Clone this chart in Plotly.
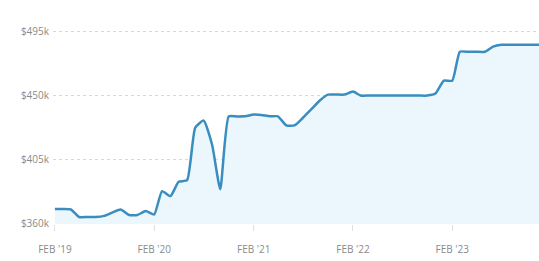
import plotly.graph_objects as go
import pandas as pd

months = pd.date_range("2019-02-01", "2024-01-01", freq="MS").strftime("%Y-%m-%d").tolist()
values_k = [
    369.8, 369.8, 369.5, 364.2, 364.2, 364.2, 365.0, 367.5, 369.5, 365.6, 365.6, 368.4,  # Feb19-Jan20
    366.0, 382.4, 378.9, 389.0, 390.1, 427.0, 432.0, 415.0, 383.8, 434.9, 434.9, 435.0,  # Feb20-Jan21
    436.3, 436.0, 435.0, 435.0, 428.6, 428.6, 434.0, 440.0, 446.0, 450.3, 450.3, 450.3,  # Feb21-Jan22
    452.4, 449.6, 449.6, 449.6, 449.6, 449.6, 449.6, 449.6, 449.6, 449.6, 451.0, 460.1,  # Feb22-Jan23
    460.1, 480.4, 480.4, 480.4, 480.4, 484.0, 485.3, 485.3, 485.3, 485.3, 485.3, 485.3,  # Feb23-Jan24
]
y_tickvals = [360, 405, 450, 495]
y_ticktext = ["$360k", "$405k", "$450k", "$495k"]
x_tickvals = ["2019-02-01", "2020-02-01", "2021-02-01", "2022-02-01", "2023-02-01"]
x_ticktext = ["FEB '19", "FEB '20", "FEB '21", "FEB '22", "FEB '23"]

fig = go.Figure()
fig.add_trace(go.Scatter(
    x=months, y=values_k, mode="lines",
    line=dict(color="#3a8ebf", width=2.5, shape="spline", smoothing=0.5),
    fill="tozeroy", fillcolor="#ebf7fd",
))
fig.update_layout(
    width=539, height=261,
    margin=dict(l=53, r=0, t=0, b=37, autoexpand=False),
    paper_bgcolor="white", plot_bgcolor="white",
    showlegend=False,
    font=dict(family="Open Sans", size=10, color="#8a8a8a"),
)
fig.update_xaxes(
    range=["2019-01-25", "2023-12-17"],
    tickvals=x_tickvals, ticktext=x_ticktext,
    showgrid=False, zeroline=False, showline=False,
    ticks="outside", ticklen=6, tickcolor="#e0e0e0", ticklabelstandoff=10,
    tickfont=dict(size=10, color="#8a8a8a"), automargin=False,
)
fig.update_yaxes(
    range=[359.3, 516.8],
    tickvals=y_tickvals, ticktext=y_ticktext,
    showgrid=True, gridcolor="#d8d8d8", griddash="dot", gridwidth=1,
    zeroline=False, showline=False, ticks="", ticklabelstandoff=3,
    tickfont=dict(size=10, color="#8a8a8a"), automargin=False,
)
fig.write_html(
    "out.html",
    config={"displayModeBar": False},
    post_script="document.body.style.margin='0';document.body.style.overflow='hidden';",
)
